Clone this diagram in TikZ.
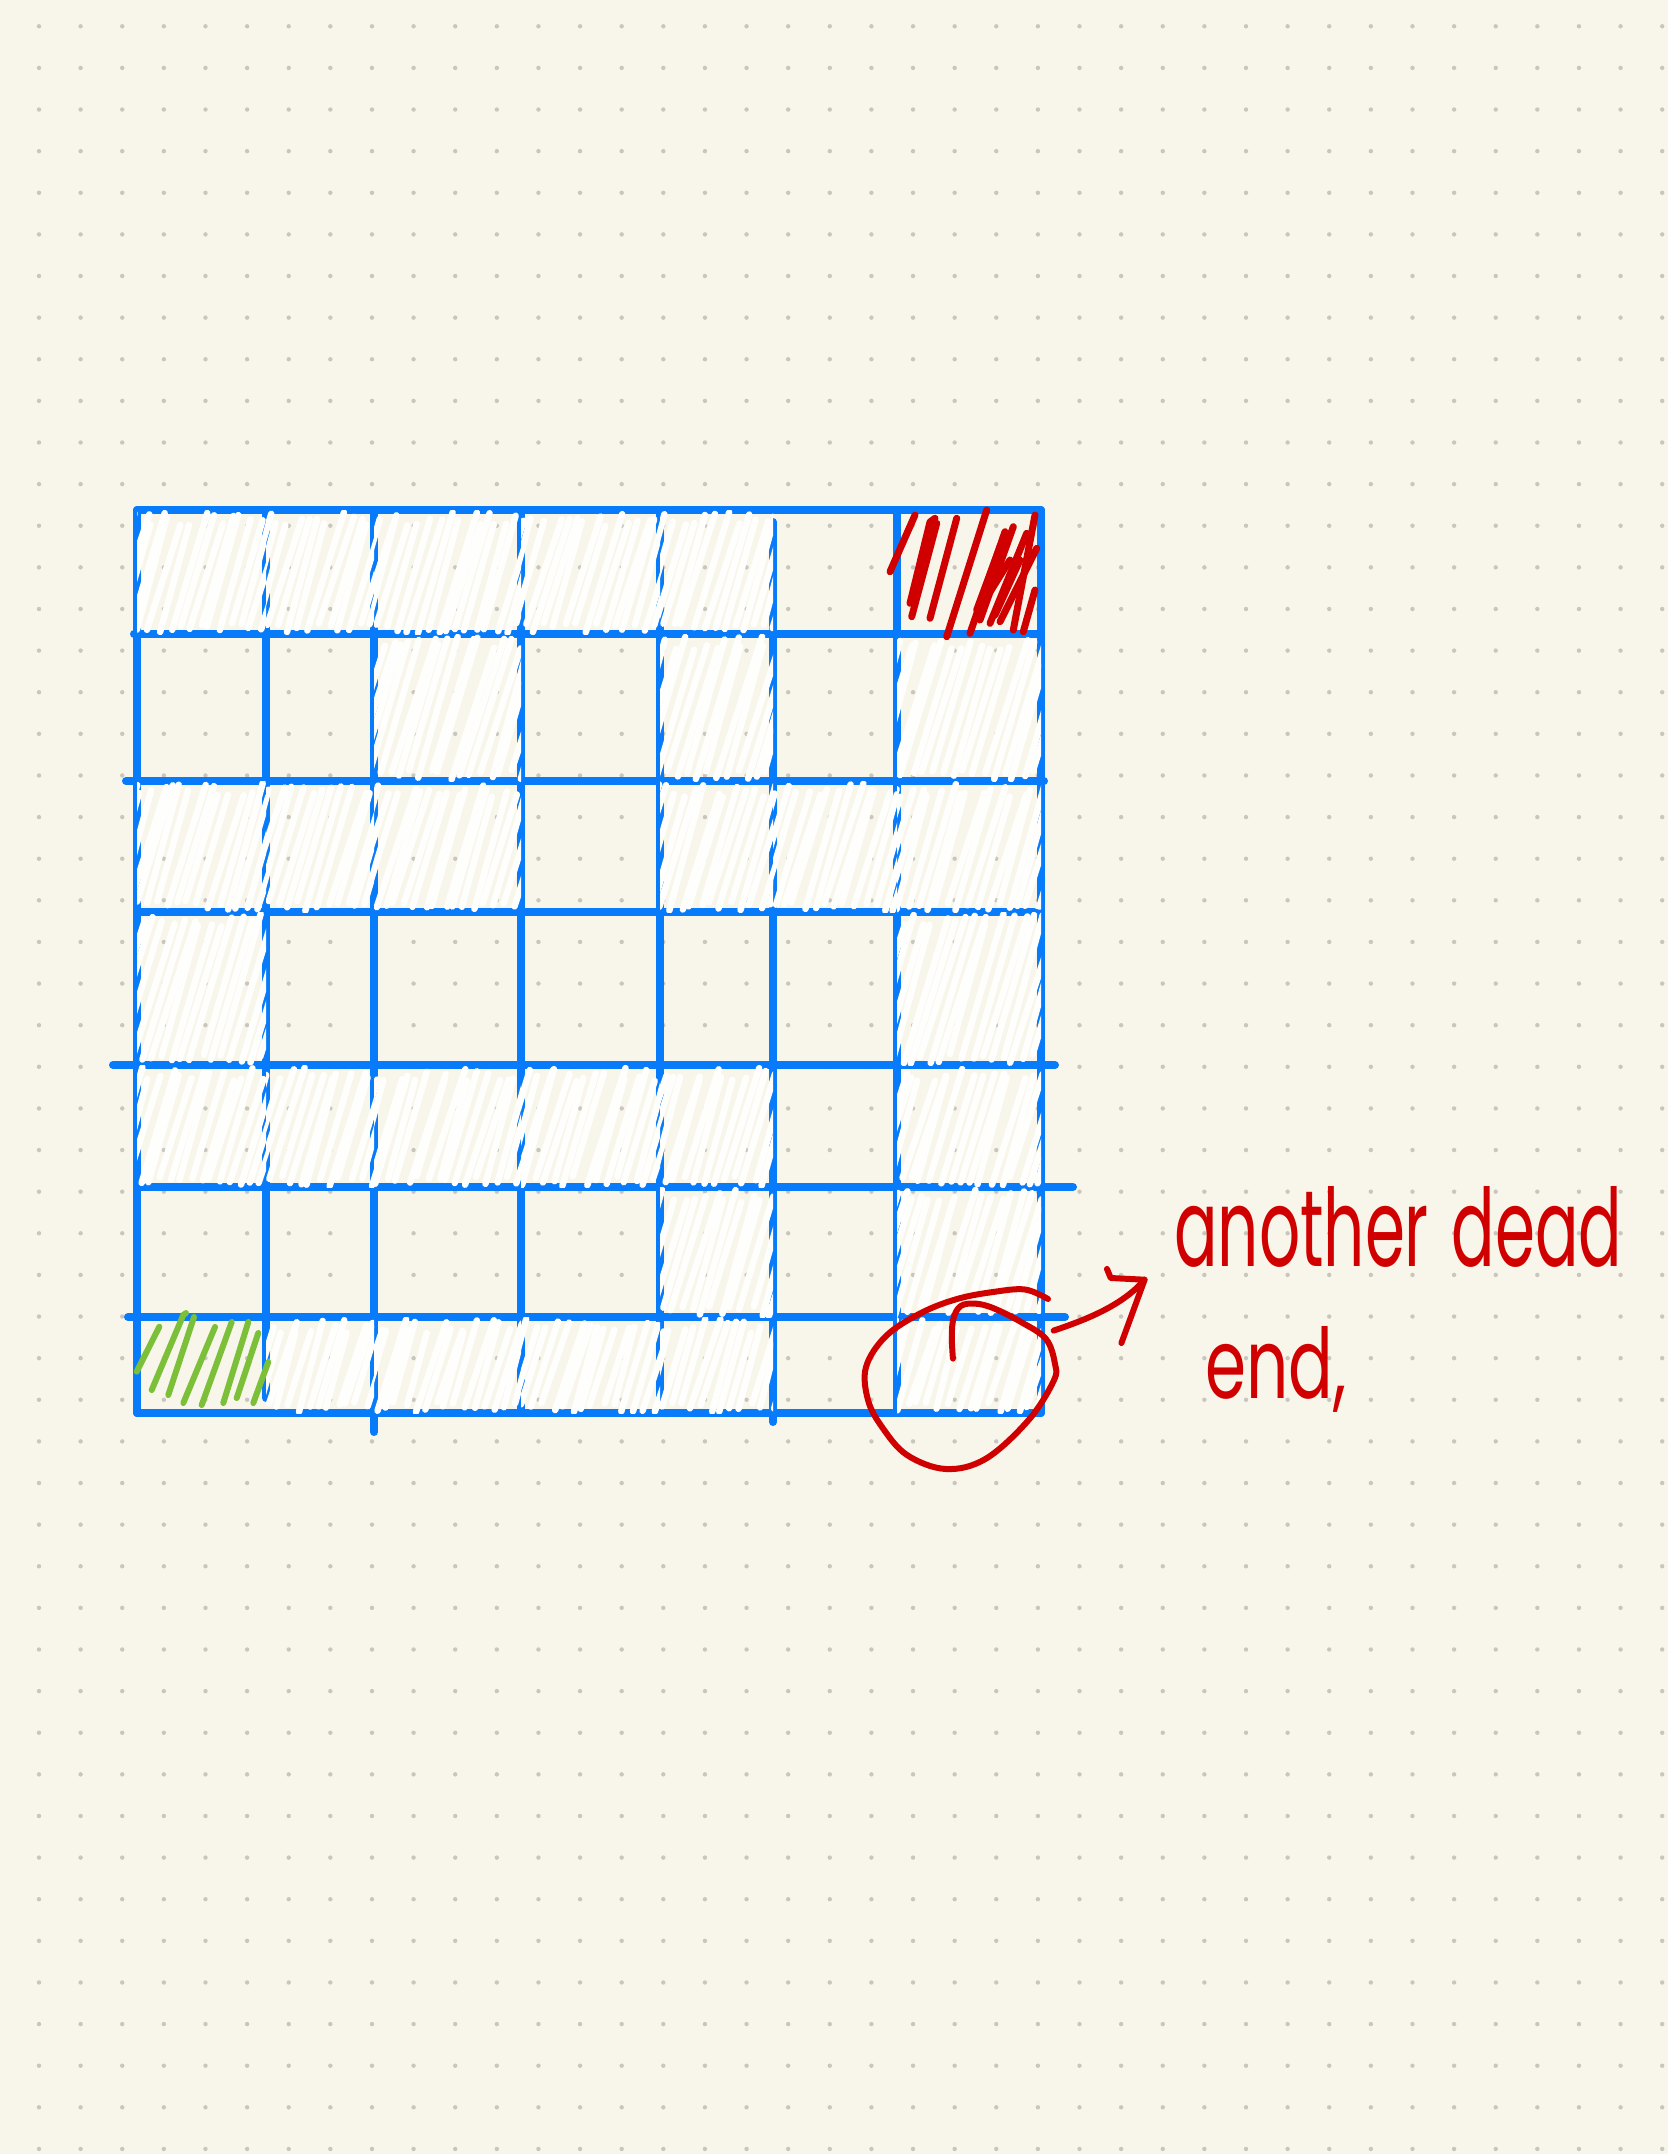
\documentclass[tikz,border=0pt]{standalone}
\usepackage{fontspec}
\usepackage{graphicx}
\newfontfamily\handfont{Poppins}
\definecolor{paper}{RGB}{248,245,234}
\definecolor{dotgrey}{RGB}{200,198,190}
\definecolor{gridblue}{RGB}{8,123,250}
\definecolor{inkred}{RGB}{208,0,0}
\definecolor{inkgreen}{RGB}{124,192,58}
\definecolor{chalk}{RGB}{254,254,252}
\tikzset{
  gridline/.style={draw=gridblue, line width=8pt, line cap=round, line join=round},
  chalkstroke/.style={draw=chalk, line width=6.5pt, line cap=round},
  redstroke/.style={draw=inkred, line width=7pt, line cap=round, line join=round},
  greenstroke/.style={draw=inkgreen, line width=6pt, line cap=round, line join=round},
  inkline/.style={draw=inkred, line width=6pt, line cap=round, line join=round},
  labeltext/.style={text=inkred, inner sep=0pt, anchor=base west},
}
\def\colX{{137,266,374,521,660,773,897,1041}}
\def\rowY{{510,634,781,912,1065,1187,1317,1413}}
\newcommand\hatchcell[4]{%
  \begin{scope}
    \clip (#1,#2) rectangle (#3,#4);
    \pgfmathsetmacro\hh{#4-#2}
    \pgfmathtruncatemacro\nn{(#3-#1+0.3*\hh)/10}
    \foreach \k in {0,...,\nn}{
      \pgfmathsetmacro\ys{#4-1-10*rnd}
      \pgfmathsetmacro\ye{#2+2+14*rnd}
      \pgfmathsetmacro\xs{#1-0.3*\hh+\k*10+3*rand}
      \pgfmathsetmacro\xe{\xs+0.3*(\ys-\ye)+4*rand}
      \draw[chalkstroke] (\xs,\ys) -- (\xe,\ye);
    }
  \end{scope}}
\begin{document}
\begin{tikzpicture}[x=1pt,y=-1pt]
\fill[paper] (0,0) rectangle (1668,2154);
\useasboundingbox (0,0) rectangle (1668,2154);
% dot paper
\foreach \i in {0,...,39}{\foreach \j in {0,...,51}{
  \fill[dotgrey] (39+41.62*\i,26.3+41.62*\j) circle[radius=2.2pt];}}
% blue maze grid
\draw[gridline] (137,510) -- (1041,510);
\draw[gridline] (134,634) -- (1041,634);
\draw[gridline] (126,781) -- (1044,781);
\draw[gridline] (140,912) -- (1034,912);
\draw[gridline] (113,1065) -- (1055,1065);
\draw[gridline] (137,1187) -- (1073,1187);
\draw[gridline] (128,1317) -- (1065,1317);
\draw[gridline] (137,1413) -- (1041,1413);
\draw[gridline] (137,510) -- (137,1413);
\draw[gridline] (266,510) -- (266,1398);
\draw[gridline] (374,510) -- (374,1432);
\draw[gridline] (521,510) -- (521,1413);
\draw[gridline] (660,510) -- (660,1397);
\draw[gridline] (773,522) -- (773,1422);
\draw[gridline] (897,510) -- (897,1413);
\draw[gridline] (1041,510) -- (1041,1413);
% white scribbled cells
\pgfmathsetseed{4711}
\foreach \c/\r in {0/0,1/0,2/0,3/0,4/0, 2/1,4/1,6/1, 0/2,1/2,2/2,4/2,5/2,6/2,
  0/3,6/3, 0/4,1/4,2/4,3/4,4/4,6/4, 4/5,6/5, 1/6,2/6,3/6,4/6,6/6}{
  \pgfmathsetmacro\xa{\colX[\c]}
  \pgfmathsetmacro\xb{\colX[\c+1]}
  \pgfmathsetmacro\ya{\rowY[\r]}
  \pgfmathsetmacro\yb{\rowY[\r+1]}
  \hatchcell{\xa}{\ya}{\xb}{\yb}
}
% red goal cell
\draw[redstroke] (890,571.7) -- (915,515);
\draw[redstroke] (910,603.3) -- (930,522) -- (935,518.3);
\draw[redstroke] (911.7,616.7) -- (936.7,523.3);
\draw[redstroke] (930,618.3) -- (956.7,518.3);
\draw[redstroke] (946.7,636.7) -- (986.7,510);
\draw[redstroke] (970,633.3) -- (1005,531.7);
\draw[redstroke] (980,620) -- (1013.3,526.7);
\draw[redstroke] (990,623.3) -- (1026.7,533.3);
\draw[redstroke] (1000,621.7) -- (1036.7,548.3);
\draw[redstroke] (1013.3,630) -- (1035,515);
\draw[redstroke] (1023.3,631.7) -- (1035,590);
\draw[redstroke] (976.7,610) -- (1000,546.7);
\draw[redstroke] (985,600) -- (1010,560);
\draw[redstroke] (995,615) -- (1020,560);
% green start cell
\draw[greenstroke] (136.7,1371.7) -- (159.3,1326.7);
\draw[greenstroke] (151.7,1390) -- (183.3,1315) -- (186,1313);
\draw[greenstroke] (168.3,1395) -- (194,1317);
\draw[greenstroke] (183.3,1403) -- (215,1327);
\draw[greenstroke] (201.7,1405) -- (231.7,1322);
\draw[greenstroke] (223.3,1403) -- (248.3,1322);
\draw[greenstroke] (236.7,1398) -- (258.3,1333);
\draw[greenstroke] (253.3,1403) -- (268.3,1362);
% red loop around the dead end
\draw[inkline] plot[smooth, tension=0.6] coordinates {(1048,1299) (1025,1289.5) (993,1292) (957,1299) (921,1313) (886,1336) (866,1367) (868,1400) (882,1427) (907,1455) (946,1469) (986,1458.6) (1028.6,1420) (1053.6,1381) (1055,1364) (1046,1339) (1021,1322) (993,1308) (975,1303.6) (960.7,1306) (953.6,1318) (951.8,1336) (952.9,1358.6)};
% arrow
\coordinate (arrowfrom) at (1053.6,1330.6);
\coordinate (arrowtip) at (1144.6,1279.7);
\draw[inkline] (arrowfrom) .. controls (1085,1320) and (1122,1306) .. (arrowtip);
\draw[inkline] (1107,1269) -- (1110.7,1278) -- (arrowtip) -- (1121.4,1343);
% labels
\node[labeltext] (lbl1) at (1174,1266) {\resizebox{448pt}{80pt}{\handfont another\hspace{0.35em}dead}};
\node[labeltext] (lbl2) at (1205,1398) {\resizebox{141pt}{72pt}{\handfont end,}};
\end{tikzpicture}
\end{document}
